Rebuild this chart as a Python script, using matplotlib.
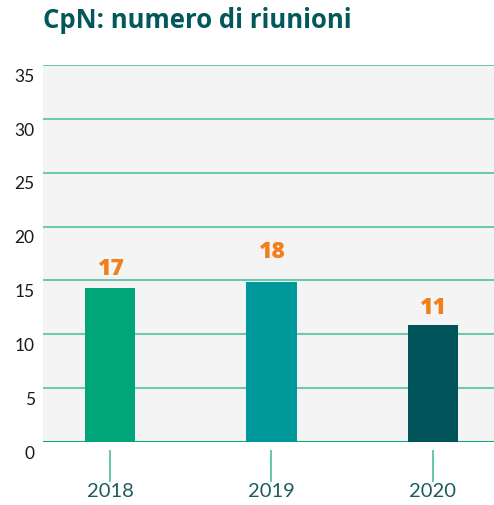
import matplotlib
matplotlib.use("Agg")
import matplotlib.pyplot as plt
import matplotlib.transforms as mtransforms
import numpy as np

years = ["2018", "2019", "2020"]
bar_heights = [14.3, 14.9, 10.85]
value_labels = ["17", "18", "11"]
y_ticks = [0, 5, 10, 15, 20, 25, 30, 35]

bar_colors = ["#00a67a", "#00999b", "#005459"]
label_offsets_px = [8, 19, 6]

plt.rcParams['font.family'] = ['Lato', 'DejaVu Sans']

fig = plt.figure(figsize=(4.94, 5.06), dpi=100)
ax = fig.add_axes([43/494, 63/506, 1 - 43/494, (442-65)/506])
ax.set_facecolor("#f4f4f4")

x = np.arange(len(years))
ax.bar(x, bar_heights, width=0.31, color=bar_colors, zorder=3)

for xi, h, lab, off in zip(x, bar_heights, value_labels, label_offsets_px):
    ax.annotate(lab, (xi, h), xytext=(0, off * 0.72), textcoords="offset points",
                ha="center", va="bottom", color="#f07f1c", fontsize=16.5,
                fontweight="heavy", family=["Open Sans", "DejaVu Sans"], zorder=4)

ax.set_xlim(-0.415, 2.378)
ax.set_ylim(0, 35)
ax.set_yticks(y_ticks)
ax.set_yticklabels([str(t) for t in y_ticks])
for t in y_ticks:
    ax.axhline(t, color="#6cc9ab" if t else "#10a67e", lw=1.5, zorder=2)

for s in ax.spines.values():
    s.set_visible(False)

ax.tick_params(axis="y", length=0, pad=6, labelsize=12.5, labelcolor="#1a1a1a")
offset = mtransforms.ScaledTranslation(0, -2/72, fig.dpi_scale_trans)
for lbl in ax.get_yticklabels():
    lbl.set_verticalalignment("top")
    lbl.set_transform(lbl.get_transform() + offset)

ax.set_xticks(x)
ax.set_xticklabels(years)
ax.tick_params(axis="x", length=0, pad=29, labelsize=14.5, labelcolor="#1d5c5c")
ax.vlines(x, -8/377, -40/377, transform=ax.get_xaxis_transform(),
          color="#4dbd9e", lw=1.2, clip_on=False)

fig.text(43/494, 1 - 21/506, "CpN: numero di riunioni", fontsize=18.5,
         fontweight="bold", family=["Open Sans", "DejaVu Sans"],
         color="#02585a", ha="left", va="center")

fig.savefig("out.png", dpi=100)
